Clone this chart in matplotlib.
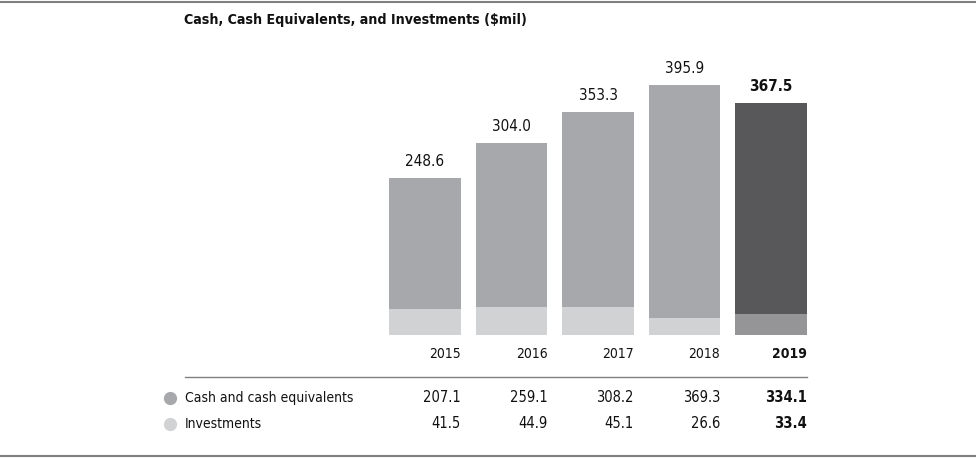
import matplotlib.pyplot as plt
from matplotlib.lines import Line2D

years = ["2015", "2016", "2017", "2018", "2019"]
cash = [207.1, 259.1, 308.2, 369.3, 334.1]
investments = [41.5, 44.9, 45.1, 26.6, 33.4]
totals = [248.6, 304.0, 353.3, 395.9, 367.5]

plt.rcParams['font.family'] = ['DejaVu Sans']
plt.rcParams['font.stretch'] = 'condensed'

W, H = 976, 462
fig = plt.figure(figsize=(W / 100, H / 100), dpi=100)

def fx(px):
    return px / W

def fy(py):
    return 1 - py / H

# bar axes, placed in pixel terms
ax = fig.add_axes([fx(381.75), fy(335), fx(814.25) - fx(381.75), fy(40) - fy(335)])
ax.set_xlim(-0.5, 4.5)
ax.set_ylim(0, 395.9 * 295 / 250)
ax.axis('off')

cash_col = ['#a7a8ab'] * 4 + ['#58585a']
inv_col = ['#d1d2d4'] * 4 + ['#959598']
x = list(range(len(years)))
ax.bar(x, investments, width=0.83, color=inv_col, linewidth=0)
ax.bar(x, cash, width=0.83, bottom=investments, color=cash_col, linewidth=0)

for i, t in enumerate(totals):
    bold = i == len(totals) - 1
    ax.annotate(f"{t:.1f}", (i, t), xytext=(0, 9), textcoords='offset pixels',
                ha='center', va='bottom', fontsize=11,
                fontweight='bold' if bold else 'normal', color='#111111')

# title and frame lines
fig.text(fx(184), fy(20), "Cash, Cash Equivalents, and Investments ($mil)",
         fontsize=10.2, fontweight='bold', va='center', ha='left', color='#111111')
fig.add_artist(Line2D([0, 1], [fy(1.5), fy(1.5)], color='#808080', lw=1.5))
fig.add_artist(Line2D([0, 1], [fy(456), fy(456)], color='#808080', lw=1.5))
fig.add_artist(Line2D([fx(185), fx(807)], [fy(377), fy(377)], color='#808080', lw=1))

# table
right_edges = [461, 548, 634, 720, 807]
for i, yr in enumerate(years):
    bold = i == len(years) - 1
    w = 'bold' if bold else 'normal'
    fig.text(fx(right_edges[i]), fy(354), yr, ha='right', va='center',
             fontsize=10, fontweight=w, color='#111111')
    fig.text(fx(right_edges[i]), fy(398), f"{cash[i]:.1f}", ha='right', va='center',
             fontsize=10.5, fontweight=w, color='#111111')
    fig.text(fx(right_edges[i]), fy(424), f"{investments[i]:.1f}", ha='right', va='center',
             fontsize=10.5, fontweight=w, color='#111111')

rows = [("Cash and cash equivalents", '#a7a8ab', 398), ("Investments", '#d1d2d4', 424)]
for label, col, py in rows:
    fig.add_artist(Line2D([fx(170)], [fy(py)], marker='o', markersize=8.5,
                          color=col, linestyle='none'))
    fig.text(fx(185), fy(py), label, ha='left', va='center', fontsize=10,
             color='#111111')

fig.savefig("out.png", dpi=100)
